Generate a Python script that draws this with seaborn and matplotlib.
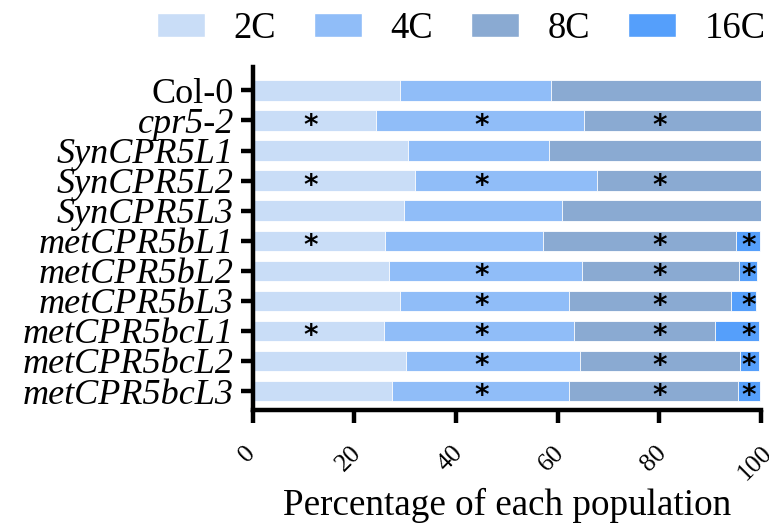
import numpy as np
import pandas as pd
import seaborn as sns
import matplotlib
matplotlib.use("Agg")
import matplotlib.pyplot as plt
from matplotlib.patches import Patch
from matplotlib.transforms import ScaledTranslation

categories = ["Col-0", "cpr5-2", "SynCPR5L1", "SynCPR5L2", "SynCPR5L3",
              "metCPR5bL1", "metCPR5bL2", "metCPR5bL3",
              "metCPR5bcL1", "metCPR5bcL2", "metCPR5bcL3"]
classes = ["2C", "4C", "8C", "16C"]

pct_2c = [28.9, 24.3, 30.5, 32.0, 29.8, 26.1, 26.8, 28.9, 25.9, 30.2, 27.4]
pct_4c = [29.8, 40.8, 27.7, 35.7, 31.1, 31.1, 38.0, 33.4, 37.4, 34.1, 34.8]
pct_8c = [41.3, 34.9, 41.8, 32.3, 39.1, 37.8, 30.9, 31.8, 27.6, 31.6, 33.3]
pct_16c = [0, 0, 0, 0, 0, 4.8, 3.6, 4.9, 8.8, 3.8, 4.3]

# significance marks (1 = asterisk)
sig_2c = [0, 1, 0, 1, 0, 1, 0, 0, 1, 0, 0]
sig_4c = [0, 1, 0, 1, 0, 0, 1, 1, 1, 1, 1]
sig_8c = [0, 1, 0, 1, 0, 1, 1, 1, 1, 1, 1]
sig_16c = [0, 0, 0, 0, 0, 1, 1, 1, 1, 1, 1]
star_x = [11.5, 45, 80, 97.5]

colors = ["#c9ddf7", "#90bdf8", "#8aaad2", "#559ffb"]

sns.set_style("ticks")
plt.rcParams["font.family"] = ["Liberation Serif", "DejaVu Serif"]
for key in ["text.color", "axes.labelcolor", "xtick.color", "ytick.color", "axes.edgecolor"]:
    plt.rcParams[key] = "black"

df = pd.DataFrame({"group": categories, "2C": pct_2c, "4C": pct_4c,
                   "8C": pct_8c, "16C": pct_16c})
cum = df[classes].cumsum(axis=1)

fig = plt.figure(figsize=(7.69, 5.24), dpi=100)
ax = fig.add_axes([0.3286, 0.2176, 0.661, 0.6546])

# draw from the longest cumulative bar down so each segment shows
for cls, col in reversed(list(zip(classes, colors))):
    sns.barplot(x=cum[cls], y=df["group"], color=col, orient="h", saturation=1,
                width=0.68, edgecolor="white", linewidth=0.6, ax=ax)

sigs = [sig_2c, sig_4c, sig_8c, sig_16c]
for k, s in enumerate(sigs):
    for j, flag in enumerate(s):
        if flag:
            ax.text(star_x[k], j + 0.18, "*", ha="center", va="center",
                    fontsize=20, fontweight="bold", family="DejaVu Sans")

ax.set_xlim(0, 100)
ax.set_ylim(10.63, -0.78)
ax.set_xticks([0, 20, 40, 60, 80, 100])
ax.set_xlabel("Percentage of each population", fontsize=26.7, va="top")
ax.xaxis.set_label_coords(0.5, -0.227)
ax.set_ylabel("")
for sp in ["top", "right"]:
    ax.spines[sp].set_visible(False)
for sp in ["left", "bottom"]:
    ax.spines[sp].set_linewidth(3.2)
ax.tick_params(axis="x", length=9, width=3.2, labelsize=18.5, labelrotation=45, pad=14)
ax.tick_params(axis="y", length=8.5, width=3.2, labelsize=26, pad=5)
shift = ScaledTranslation(-0.055, 0, fig.dpi_scale_trans)
for lab in ax.get_xticklabels():
    lab.set_transform(lab.get_transform() + shift)
for i, lab in enumerate(ax.get_yticklabels()):
    if i > 0:
        lab.set_style("italic")

handles = [Patch(facecolor=c, edgecolor="white") for c in colors]
fig.legend(handles, classes, loc="center", bbox_to_anchor=(0.600, 0.9456),
           ncol=4, frameon=False, fontsize=26.3, handlelength=1.31,
           handleheight=0.64, handletextpad=0.77, columnspacing=1.05)

fig.savefig("out.png", dpi=100)
